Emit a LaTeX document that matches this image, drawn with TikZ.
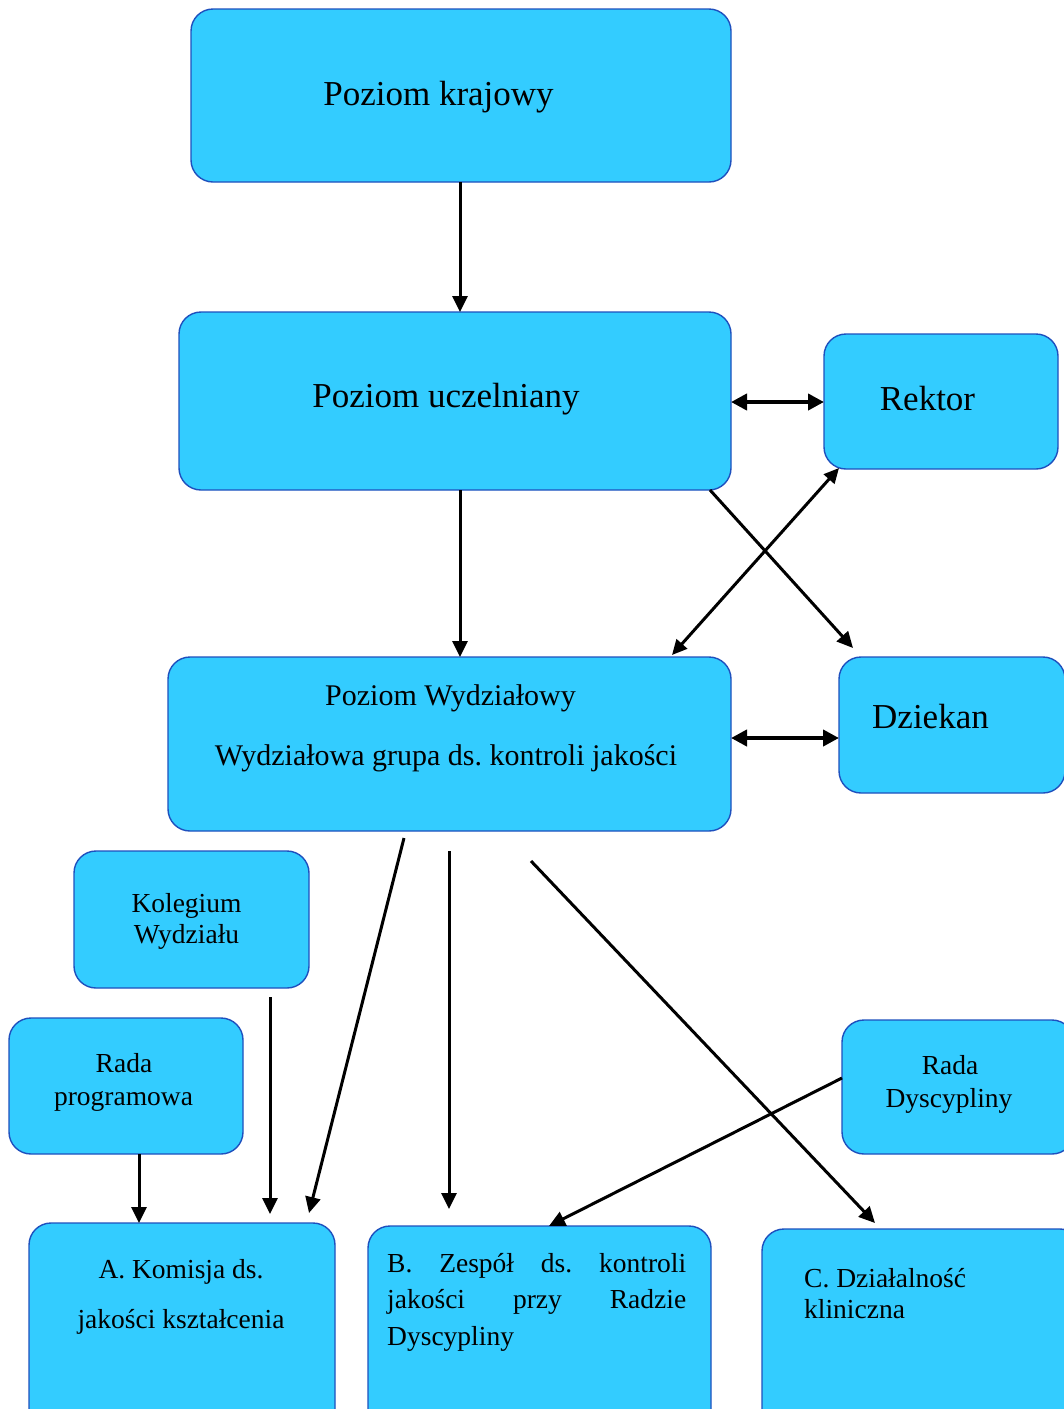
\documentclass[tikz,border=0pt]{standalone}
\usepackage{fontspec}
\setmainfont{Liberation Serif}
\usetikzlibrary{arrows.meta}
\definecolor{boxfill}{RGB}{51,204,255}
\definecolor{boxline}{RGB}{30,80,190}
\frenchspacing
\begin{document}
\begin{tikzpicture}[x=1pt,y=-1pt,
  box/.style={rectangle, rounded corners=22pt, draw=boxline, fill=boxfill, line width=1.4pt, inner sep=0pt, outer sep=0pt, anchor=north west},
  bigtxt/.style={font=\fontsize{35}{40}\selectfont, anchor=base, inner sep=0pt},
  midtxt/.style={font=\fontsize{30}{36}\selectfont, anchor=base, inner sep=0pt},
  smltxt/.style={font=\fontsize{27.5}{32}\selectfont, anchor=base, inner sep=0pt},
  arr/.style={line width=3pt, -{Triangle[length=16pt,width=15pt]}},
  darr/.style={line width=3pt, {Triangle[length=15pt,width=14pt]}-{Triangle[length=15pt,width=14pt]}},
  dbl/.style={line width=4.2pt, {Triangle[length=16pt,width=16pt]}-{Triangle[length=16pt,width=16pt]}}]
\useasboundingbox (0,0) rectangle (1064,1409);
\clip (0,0) rectangle (1064,1409);
\fill[white] (0,0) rectangle (1064,1409);

% boxes
\node[box, minimum width=540pt, minimum height=173pt] (kraj) at (191,9) {};
\node[box, minimum width=552pt, minimum height=178pt] (uczel) at (179,312) {};
\node[box, minimum width=234pt, minimum height=135pt] (rektor) at (824,334) {};
\node[box, minimum width=563pt, minimum height=174pt] (wydz) at (168,657) {};
\node[box, minimum width=226pt, minimum height=136pt] (dziekan) at (839,657) {};
\node[box, minimum width=235pt, minimum height=137pt] (kolegium) at (74,851) {};
\node[box, minimum width=234pt, minimum height=136pt] (radaprog) at (9,1018) {};
\node[box, minimum width=232pt, minimum height=134pt] (radadysc) at (842,1020) {};
\node[box, minimum width=306pt, minimum height=230pt] (boxA) at (29,1223) {};
\node[box, minimum width=343pt, minimum height=230pt] (boxB) at (368,1226) {};
\node[box, minimum width=320pt, minimum height=230pt] (boxC) at (762,1229) {};

% texts
\node[bigtxt] (t-kraj) at (438.5,105) {Poziom krajowy};
\node[bigtxt] (t-uczel) at (446,407) {Poziom uczelniany};
\node[bigtxt] (t-rektor) at (927.5,410) {Rektor};
\node[bigtxt, anchor=base west] (t-dziekan) at (872,728) {Dziekan};
\node[midtxt] (t-wydz1) at (450.5,705) {Poziom Wydziałowy};
\node[midtxt] (t-wydz2) at (446,765) {Wydziałowa grupa ds. kontroli jakości};
\node[smltxt] (t-kol1) at (186.5,912) {Kolegium};
\node[smltxt] (t-kol2) at (186.5,943) {Wydziału};
\node[smltxt] (t-rp1) at (124,1072) {Rada};
\node[smltxt] (t-rp2) at (123.5,1105) {programowa};
\node[smltxt] (t-rd1) at (950,1074) {Rada};
\node[smltxt] (t-rd2) at (949,1107) {Dyscypliny};
\node[smltxt] (t-a1) at (181,1278) {A. Komisja ds.};
\node[smltxt] (t-a2) at (181,1328) {jakości kształcenia};
\node[smltxt, anchor=base west] (t-b1) at (387,1272) {\makebox[299pt][s]{B. Zespół ds. kontroli}};
\node[smltxt, anchor=base west] (t-b2) at (387,1308) {\makebox[299pt][s]{jakości przy Radzie}};
\node[smltxt, anchor=base west] (t-b3) at (387,1345) {Dyscypliny};
\node[smltxt, anchor=base west] (t-c1) at (804,1287) {C. Działalność};
\node[smltxt, anchor=base west] (t-c2) at (804,1318) {kliniczna};

% helper coordinates
\coordinate (x460) at (460,0);
\coordinate (y402) at (0,402);
\coordinate (y738) at (0,738);
\coordinate (x139) at (139,0);
\coordinate (y1078) at (0,1078);
\coordinate (x549) at (549,0);
\coordinate (s7) at (404,838);
\coordinate (e7) at (309,1213);
\coordinate (s8) at (449,851);
\coordinate (e8) at (449,1209);
\coordinate (s9) at (531,861);
\coordinate (e9) at (875,1223);
\coordinate (s10) at (270,997);
\coordinate (e10) at (270,1214);
\coordinate (e3) at (853,648);

% connectors
\draw[arr] (kraj.south -| x460) -- (uczel.north -| x460);
\draw[dbl] (uczel.east |- y402) -- (rektor.west |- y402);
\draw[arr] ([xshift=-21pt]uczel.south east) -- (e3);
\draw[darr] ([xshift=15pt,yshift=1pt]rektor.south west) -- ([xshift=-59pt,yshift=2pt]wydz.north east);
\draw[arr] (uczel.south -| x460) -- (wydz.north -| x460);
\draw[dbl] (wydz.east |- y738) -- (dziekan.west |- y738);
\draw[arr] (s7) -- (e7);
\draw[arr] (s8) -- (e8);
\draw[arr] (s9) -- (e9);
\draw[arr] (s10) -- (e10);
\draw[arr] (radaprog.south -| x139) -- (boxA.north -| x139);
\draw[arr] (radadysc.west |- y1078) -- (boxB.north -| x549);
\end{tikzpicture}
\end{document}
